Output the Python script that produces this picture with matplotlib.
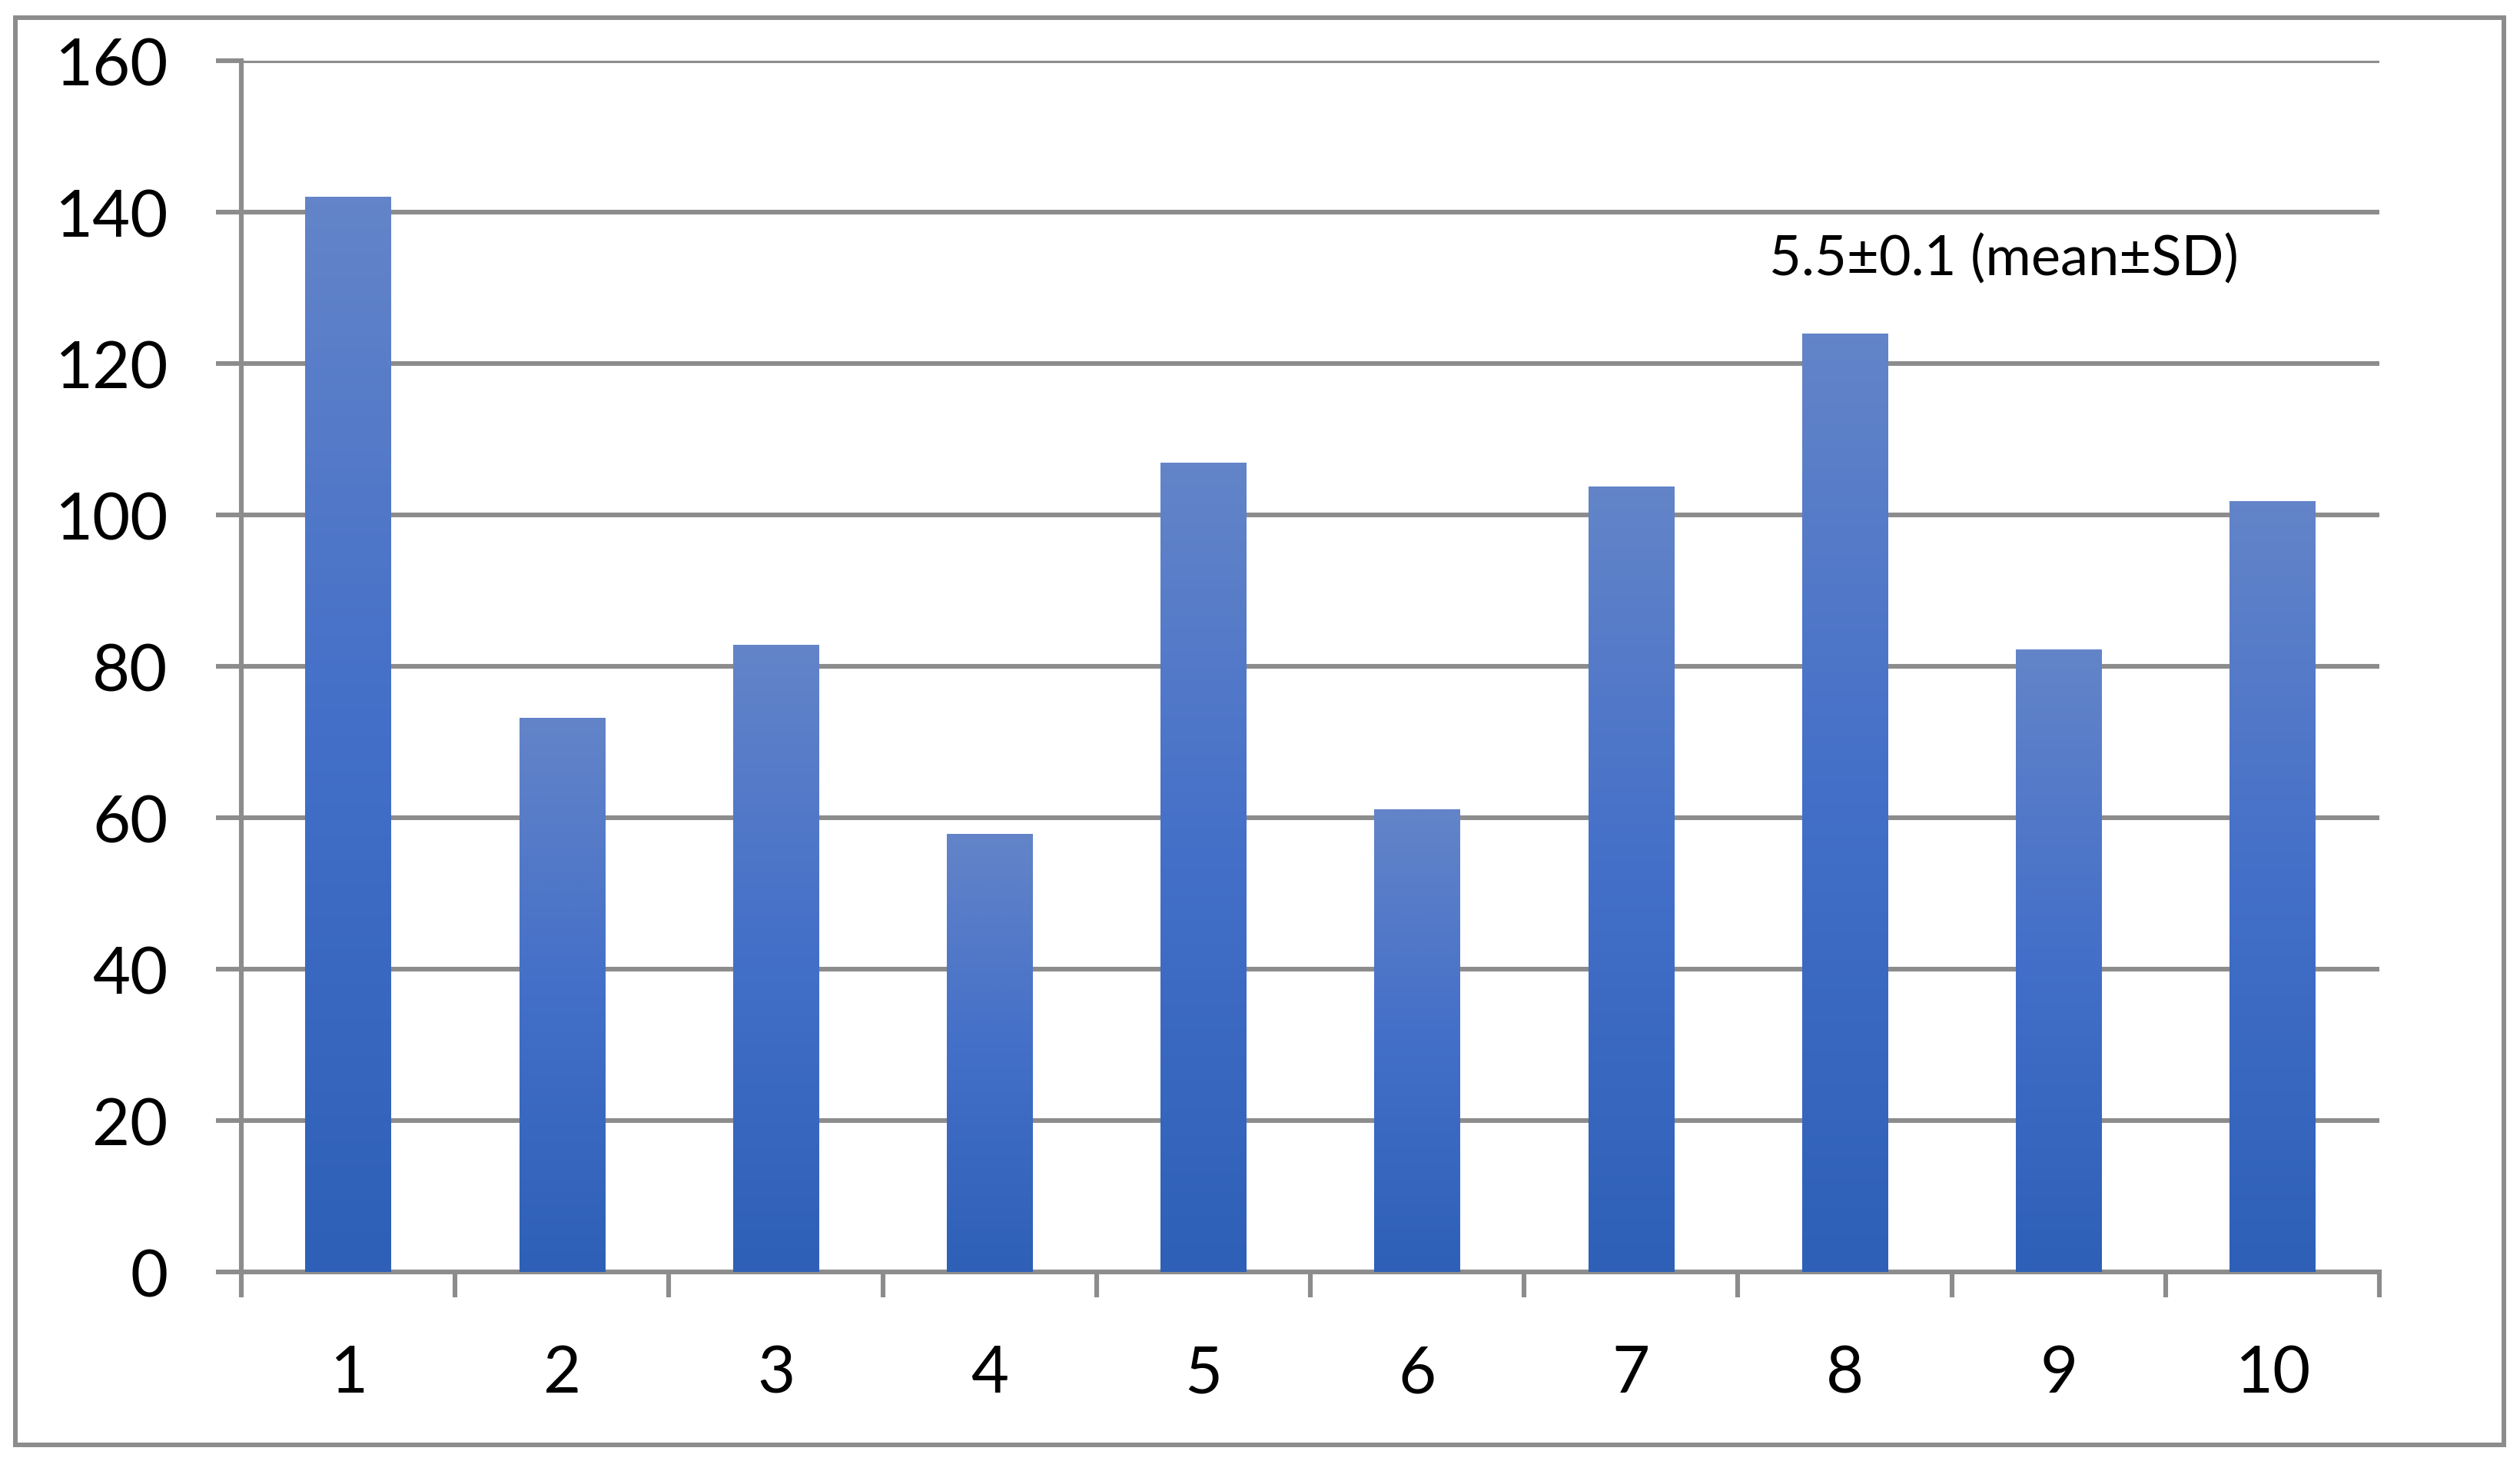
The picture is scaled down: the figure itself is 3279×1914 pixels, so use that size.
import numpy as np
import matplotlib
matplotlib.use("Agg")
import matplotlib.pyplot as plt
from matplotlib.colors import LinearSegmentedColormap
from matplotlib.patches import Rectangle

# data
categories = [1, 2, 3, 4, 5, 6, 7, 8, 9, 10]
values = [142, 73.2, 82.8, 57.9, 106.9, 61.1, 103.8, 124, 82.2, 101.8]
y_ticks = [0, 20, 40, 60, 80, 100, 120, 140, 160]
note = "5.5\u00b10.1 (mean\u00b1SD)"

plt.rcParams['font.family'] = ['Lato', 'DejaVu Sans']

grey = '#8c8c8c'
bar_cmap = LinearSegmentedColormap.from_list('bar', ['#2e60b7', '#436fc8', '#6384c8'])

fig = plt.figure(figsize=(32.79, 19.15), dpi=100)
ax = fig.add_axes([0.09576, 0.13525, 0.94419 - 0.09576, 0.95822 - 0.13525])

# outer chart border
fig.patches.append(Rectangle((20 / 3279, 34 / 1915), 3238 / 3279, 1857 / 1915,
                             transform=fig.transFigure, fill=False,
                             edgecolor=grey, linewidth=4.3))

bars = ax.bar(categories, values, width=0.4, color='none', edgecolor='none', zorder=3)
grad = np.linspace(0, 1, 256).reshape(-1, 1)
for b in bars:
    x0, w, h = b.get_x(), b.get_width(), b.get_height()
    im = ax.imshow(grad, cmap=bar_cmap, origin='lower', aspect='auto',
                   extent=[x0, x0 + w, 0, h], zorder=3, interpolation='bilinear')
    im.set_clip_path(b)

ax.set_xlim(0.5, 10.5)
ax.set_ylim(0, 160)
ax.set_yticks(y_ticks)
ax.yaxis.grid(True, color=grey, linewidth=4.4, zorder=0)
ax.set_axisbelow(True)

# category boundaries get the tick marks, labels sit in between
ax.set_xticks(np.arange(0.5, 11, 1))
ax.set_xticklabels([])
ax.set_xticks(categories, minor=True)
ax.set_xticklabels([str(c) for c in categories], minor=True)

ax.tick_params(axis='y', length=24, width=4.4, color=grey, labelsize=61, pad=45)
ax.tick_params(axis='x', which='major', length=24, width=4.4, color=grey)
ax.tick_params(axis='x', which='minor', length=0, labelsize=61, pad=67)

for side in ['top', 'right']:
    ax.spines[side].set_visible(False)
for side in ['left', 'bottom']:
    ax.spines[side].set_color(grey)
    ax.spines[side].set_linewidth(4.4)

ax.text(8.745, 133.9, note, fontsize=52, ha='center', va='center', zorder=5)

fig.savefig('out.png', dpi=100, facecolor='white')
